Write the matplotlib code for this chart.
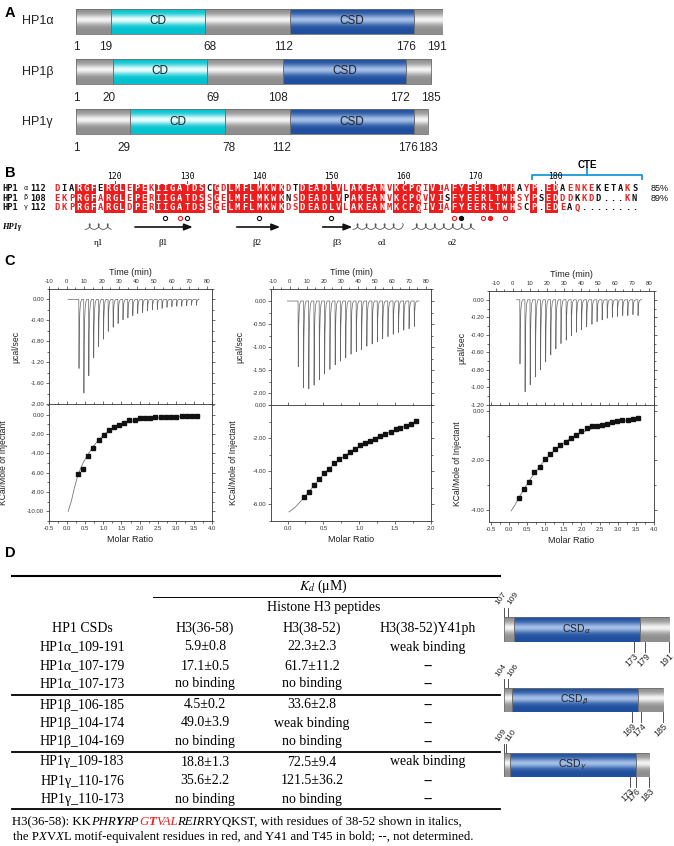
import numpy as np
import matplotlib
matplotlib.use('Agg')
import matplotlib.pyplot as plt
from matplotlib.patches import Rectangle
from matplotlib.colors import to_rgb
from matplotlib.ticker import MultipleLocator, FormatStrFormatter

plt.rcParams['font.family'] = ['Liberation Sans', 'DejaVu Sans']
plt.rcParams['axes.unicode_minus'] = False

# ---------------- data ----------------
# A: domain maps
a_names = ['HP1α', 'HP1β', 'HP1γ']
a_len = [191, 185, 183]
a_cd = [(19, 68), (20, 69), (29, 78)]
a_csd = [(112, 176), (108, 172), (112, 176)]
a_marks = [[1, 19, 68, 112, 176, 191], [1, 20, 69, 108, 172, 185], [1, 29, 78, 112, 176, 183]]
# small label nudges (in residues) so numbers sit as in the original
a_mark_dx = [[0, -2.5, 2.5, -3.5, -4, -3], [0, -2, 3, -2.5, -3.5, 0], [0, -3, 2, -4.5, -3, 0]]

# B: alignment
seq_greek = ['α', 'β', 'γ']
seq_start = [112, 108, 112]
seq_a = 'DIARGFERGLEPEKIIGATDSCGDLMFLMKWKDTDEADLVLAKEANVKCPQIVIAFYEERLTWHAYP.EDAENKEKETAKS'
seq_b = 'EKPRGFARGLEPERIIGATDSSGELMFLMKWKNSDEADLVPAKEANVKCPQVVISFYEERLTWHSYPSEDDDKKDD...KN'
seq_g = 'DKPRGFARGLDPERIIGATDSSGELMFLMKWKDSDEADLVLAKEANMKCPQIVIAFYEERLTWHSCP.EDEAQ........'
seq_ident = ['85%', '89%', '']
sim_groups = ['DE', 'KR', 'ILVM', 'NQ', 'FYW']
ruler = [120, 130, 140, 150, 160, 170, 180]
contact_cols = [15, 17, 18, 28, 38, 55, 56, 59, 60, 62]
contact_color = ['k', 'r', 'k', 'k', 'k', 'r', 'k', 'r', 'r', 'r']
contact_filled = [0, 0, 0, 0, 0, 0, 1, 0, 1, 0]
ss_kind = ['coil', 'arrow', 'arrow', 'arrow', 'coil', 'coil']
ss_from = [3.9, 10.8, 24.9, 36.8, 41.0, 49.2]
ss_to = [7.6, 18.8, 30.9, 40.9, 47.9, 57.9]
ss_label = ['η1', 'β1', 'β2', 'β3', 'α1', 'α2']
ss_label_col = [5.7, 14.7, 27.7, 38.8, 45.0, 54.8]
cte_span = (65.8, 81.0)
cte_mid = 73.4

# C: ITC
itc_names = ['HP1α_107-179', 'HP1β_104-174', 'HP1γ_110-176']
itc_kd = ['17.1±0.5', '49.0±3.9', '35.6±2.2']
inj_t1 = [7.0, 9.8, 12.6, 15.4, 18.2, 21.0, 23.7, 26.5, 29.3, 32.1, 34.9, 37.7, 40.5,
          43.3, 46.1, 48.9, 51.7, 54.4, 57.2, 60.0, 62.8, 65.6, 68.4, 71.2, 74.0]
depth1 = [-1.32, -1.79, -1.46, -1.12, -0.90, -0.76, -0.61, -0.53, -0.46, -0.39, -0.35, -0.31, -0.27,
          -0.25, -0.22, -0.20, -0.19, -0.17, -0.15, -0.14, -0.13, -0.13, -0.12, -0.11, -0.11]
inj_t2 = [4.9, 8.0, 11.1, 14.2, 17.3, 20.4, 23.5, 26.6, 29.7, 32.8, 35.9, 39.0, 42.1, 45.2,
          48.3, 51.4, 54.5, 57.6, 60.7, 63.8, 66.9, 70.0, 73.1]
depth2 = [-1.42, -1.88, -1.90, -1.82, -1.70, -1.58, -1.48, -1.38, -1.30, -1.23, -1.15, -1.10,
          -1.05, -0.98, -0.93, -0.88, -0.82, -0.77, -0.72, -0.68, -0.63, -0.60, -0.55]
inj_t3 = [4.1, 7.1, 10.1, 13.2, 16.2, 19.2, 22.2, 25.2, 28.2, 31.3, 34.3, 37.3, 40.3, 43.3,
          46.4, 49.4, 52.4, 55.4, 58.4, 61.4, 64.5, 67.5, 70.5, 73.5]
depth3 = [-0.73, -1.05, -0.97, -0.88, -0.80, -0.71, -0.63, -0.56, -0.50, -0.46, -0.41, -0.37,
          -0.34, -0.31, -0.28, -0.25, -0.23, -0.21, -0.20, -0.19, -0.18, -0.18, -0.17, -0.18]
base_span = [(0.8, 75.4), (-1.4, 75.9), (2.2, 75.7)]

ratio1 = [0.31, 0.44, 0.58, 0.72, 0.87, 1.02, 1.16, 1.30, 1.44, 1.58, 1.72, 1.87,
          2.01, 2.15, 2.30, 2.44, 2.58, 2.72, 2.87, 3.01, 3.16, 3.30, 3.44, 3.58]
heat1 = [-6.1, -5.6, -4.3, -3.4, -2.66, -2.08, -1.63, -1.28, -1.04, -0.83, -0.59, -0.52,
         -0.38, -0.38, -0.31, -0.28, -0.24, -0.21, -0.21, -0.21, -0.17, -0.17, -0.14, -0.10]
fit_r1 = [0.03, 0.12, 0.2, 0.3, 0.44, 0.58, 0.72, 0.87, 1.02, 1.16, 1.3, 1.5, 1.72, 2.0, 2.3, 2.7, 3.1, 3.6]
fit_h1 = [-10.0, -8.9, -7.6, -6.2, -5.0, -4.1, -3.3, -2.6, -2.05, -1.65, -1.32, -1.0, -0.75, -0.55,
          -0.42, -0.3, -0.22, -0.15]
ratio2 = [0.23, 0.30, 0.37, 0.44, 0.51, 0.58, 0.65, 0.72, 0.80, 0.87, 0.94, 1.01, 1.08, 1.15,
          1.22, 1.29, 1.36, 1.44, 1.51, 1.57, 1.65, 1.72, 1.79]
heat2 = [-5.57, -5.25, -4.83, -4.47, -4.10, -3.86, -3.50, -3.28, -3.06, -2.86, -2.66, -2.43,
         -2.30, -2.17, -2.03, -1.87, -1.73, -1.61, -1.47, -1.37, -1.25, -1.15, -0.95]
fit_r2 = [0.02, 0.1, 0.23, 0.37, 0.51, 0.65, 0.8, 0.94, 1.08, 1.22, 1.36, 1.51, 1.65, 1.79]
fit_h2 = [-6.45, -6.2, -5.6, -4.85, -4.15, -3.55, -3.05, -2.65, -2.3, -2.0, -1.73, -1.48, -1.25, -1.03]
ratio3 = [0.28, 0.42, 0.56, 0.70, 0.85, 1.00, 1.14, 1.28, 1.42, 1.56, 1.70, 1.85, 1.99,
          2.14, 2.28, 2.42, 2.56, 2.70, 2.85, 2.99, 3.13, 3.28, 3.42, 3.56]
heat3 = [-3.54, -3.15, -2.86, -2.49, -2.26, -1.96, -1.72, -1.54, -1.38, -1.26, -1.11, -0.96,
         -0.82, -0.70, -0.62, -0.62, -0.57, -0.51, -0.45, -0.38, -0.35, -0.34, -0.31, -0.27]
fit_r3 = [0.06, 0.15, 0.28, 0.42, 0.56, 0.7, 0.85, 1.0, 1.14, 1.28, 1.42, 1.56, 1.7, 1.85, 2.0,
          2.3, 2.6, 3.0, 3.3, 3.56]
fit_h3 = [-4.05, -3.85, -3.5, -3.15, -2.83, -2.52, -2.24, -1.97, -1.75, -1.55, -1.38, -1.24, -1.1,
          -0.98, -0.87, -0.7, -0.57, -0.44, -0.37, -0.32]

# D: table
tbl_csd = ['HP1α_109-191', 'HP1α_107-179', 'HP1α_107-173', 'HP1β_106-185', 'HP1β_104-174',
           'HP1β_104-169', 'HP1γ_109-183', 'HP1γ_110-176', 'HP1γ_110-173']
tbl_h3_36_58 = ['5.9±0.8', '17.1±0.5', 'no binding', '4.5±0.2', '49.0±3.9', 'no binding',
                '18.8±1.3', '35.6±2.2', 'no binding']
tbl_h3_38_52 = ['22.3±2.3', '61.7±11.2', 'no binding', '33.6±2.8', 'weak binding', 'no binding',
                '72.5±9.4', '121.5±36.2', 'no binding']
tbl_y41ph = ['weak binding', '--', '--', '--', '--', '--', 'weak binding', '--', '--']
tbl_head = ['HP1 CSDs', 'H3(36-58)', 'H3(38-52)', 'H3(38-52)Y41ph']
d_range = [(107, 191), (104, 185), (109, 183)]
d_csd = [(112, 176), (108, 172), (112, 176)]
d_top = [[107, 109], [104, 106], [109, 110]]
d_top_dx = [-2.0, 2.0]   # spread the two crowded start labels apart
d_bot = [[173, 179, 191], [169, 174, 185], [173, 176, 183]]

# ---------------- figure ----------------
W, H = 674, 846
fig = plt.figure(figsize=(W / 100, H / 100), dpi=100)


def px_axes(x0, y0, x1, y1):
    return fig.add_axes([x0 / W, 1 - y1 / H, (x1 - x0) / W, (y1 - y0) / H])


canvas = px_axes(0, 0, W, H)
canvas.set_xlim(0, W)
canvas.set_ylim(H, 0)
canvas.axis('off')

GRAY = ('#8f8f8f', '#f4f4f4')
CYAN = ('#00c2cf', '#eaffff')
BLUE = ('#1f4f9e', '#a4bfe8')


def grad_rect(ax, x0, x1, y0, y1, cols):
    t = np.linspace(0, 1, 80)
    w = np.exp(-((t - 0.42) / 0.2) ** 2)
    e, m = np.array(to_rgb(cols[0])), np.array(to_rgb(cols[1]))
    img = e * (1 - w[:, None]) + m * w[:, None]
    ax.imshow(img[:, None, :], extent=(x0, x1, y1, y0), aspect='auto',
              interpolation='bilinear', zorder=2)
    ax.add_patch(Rectangle((x0, y0), x1 - x0, y1 - y0, fill=False, ec='#6f6f6f', lw=0.6, zorder=3))


for lab, y in zip('ABCD', [13, 173, 261, 553]):
    canvas.text(10, y, lab, fontsize=10.5, weight='bold', ha='center', va='center')

# ---- A ----
axA = px_axes(76, 0, 443, 160)
for r in range(3):
    cd, csd = a_cd[r], a_csd[r]
    segs = [(1, cd[0], GRAY), (cd[0], cd[1], CYAN), (cd[1], csd[0], GRAY),
            (csd[0], csd[1], BLUE), (csd[1], a_len[r], GRAY)]
    for s0, s1, c in segs:
        grad_rect(axA, s0, s1, r - 0.25, r + 0.25, c)
    axA.text(sum(cd) / 2, r, 'CD', ha='center', va='center', fontsize=8.5, color='#222', zorder=4)
    axA.text(sum(csd) / 2, r, 'CSD', ha='center', va='center', fontsize=8.5, color='#222', zorder=4)
    for m, dx in zip(a_marks[r], a_mark_dx[r]):
        axA.text(m + dx, r + 0.52, str(m), ha='center', va='center', fontsize=8.5, color='#222')
    axA.text(-0.147, r, a_names[r], transform=axA.get_yaxis_transform(), ha='left',
             va='center', fontsize=9, color='#222')
axA.set_xlim(1, 191)
axA.set_ylim(2.77, -0.43)
axA.axis('off')

# ---- B ----
axB = px_axes(0, 160, W, 252)
seqs = [seq_a, seq_b, seq_g]
ncol = len(seq_a)
RED = '#ee1d1d'
MONO = dict(family='DejaVu Sans Mono', weight='bold', fontsize=6.3)


def grp(c):
    for g in sim_groups:
        if c in g:
            return g
    return c


ident = [all(s[j] == seq_a[j] for s in seqs) and seq_a[j] != '.' for j in range(ncol)]
j = 0
while j < ncol:
    if ident[j]:
        k = j
        while k + 1 < ncol and ident[k + 1]:
            k += 1
        axB.add_patch(Rectangle((j - 0.45, -0.5), k - j + 0.9, 3.0, fc=RED, ec='none', zorder=1))
        j = k + 1
    else:
        j += 1
for r, s in enumerate(seqs):
    for j, c in enumerate(s):
        if ident[j]:
            col = 'white'
        elif c != '.' and any(grp(o[j]) == grp(c) for i, o in enumerate(seqs) if i != r and o[j] != '.'):
            col = RED
        else:
            col = '#111'
        axB.text(j, r, c, ha='center', va='center', color=col, zorder=2, **MONO)
    axB.text(-7.6, r, 'HP1', ha='left', va='center', color='#111', **MONO)
    axB.text(-4.6, r - 0.15, seq_greek[r], ha='left', va='center', color='#111',
             family='DejaVu Sans', fontsize=4.8)
    axB.text(-1.5, r, str(seq_start[r]), ha='right', va='center', color='#111', **MONO)
    axB.text(82.2, r, seq_ident[r], ha='left', va='center', fontsize=6.5, color='#111')

# ruler from the first sequence numbering
res_cols = [j for j, c in enumerate(seq_a) if c != '.']
for n in ruler:
    cpos = res_cols[n - seq_start[0]]
    axB.text(cpos, -1.3, str(n), ha='center', va='center', family='DejaVu Sans Mono', fontsize=5.8)
    axB.plot([cpos, cpos], [-0.85, -0.6], color='#333', lw=0.6)

# CTE bracket
cte_c = '#1b98d5'
axB.plot([cte_span[0], cte_span[0], cte_span[1], cte_span[1]], [-1.05, -1.5, -1.5, -1.05], color=cte_c, lw=1.3)
axB.plot([cte_mid, cte_mid], [-1.5, -2.2], color=cte_c, lw=1.3)
axB.text(cte_mid, -2.55, 'CTE', ha='center', va='center', fontsize=7, weight='bold')

# interface residues
for cpos, cc, f in zip(contact_cols, contact_color, contact_filled):
    ccol = '#111' if cc == 'k' else RED
    axB.plot(cpos, 3.05, 'o', ms=3.0, mec=ccol, mfc=(ccol if f else 'white'), mew=0.8)

# secondary structure
axB.text(-7.6, 4.0, 'HP1γ', ha='left', va='center', family='Liberation Serif', style='italic',
         weight='bold', fontsize=6)
for kind, c0, c1, lab, lc in zip(ss_kind, ss_from, ss_to, ss_label, ss_label_col):
    if kind == 'arrow':
        axB.annotate('', xy=(c1, 4.0), xytext=(c0, 4.0),
                     arrowprops=dict(arrowstyle='-|>,head_width=0.22,head_length=0.55',
                                     lw=1.2, color='#111', shrinkA=0, shrinkB=0, mutation_scale=9))
    else:
        s = np.linspace(0, c1 - c0, 200)
        th = 2 * np.pi * s / 1.25
        axB.plot(c0 + s + 0.32 * np.sin(th), 4.25 - 0.6 * (1 - np.cos(th)) / 2, color='#555', lw=0.6)
    axB.text(lc, 5.68, lab, ha='center', va='center', family='Liberation Serif', fontsize=6.5)
axB.set_xlim(-57 / 7.22, (W - 57) / 7.22)
axB.set_ylim(6.63, -3.05)
axB.axis('off')

# ---- C ----
PEAK_DT = [0, 0.12, 0.3, 0.6, 1.0, 1.6]
PEAK_F = [0, 1, 0.45, 0.18, 0.05, 0]
panels = [
    dict(box=(49, 212, 289, 404, 521), tlim=(-10, 83), inj=inj_t1, dep=depth1, base=base_span[0],
         rlim=(-2.0, 0.2), rstep=0.4, xlim=(-0.5, 4.0), xstep=0.5, hlim=(-11.0, 1.1), hstep=2.0,
         r=ratio1, h=heat1, fr=fit_r1, fh=fit_h1, txt=(143, 467), ylab=(16, 4)),
    dict(box=(271, 431, 289, 405, 521), tlim=(-11, 83), inj=inj_t2, dep=depth2, base=base_span[1],
         rlim=(-2.25, 0.26), rstep=0.5, xlim=(-0.23, 2.0), xstep=0.5, hlim=(-7.0, 0.0), hstep=2.0,
         r=ratio2, h=heat2, fr=fit_r2, fh=fit_h2, txt=(378, 469), ylab=(240, 233)),
    dict(box=(489, 654, 291, 405, 522), tlim=(-14, 83), inj=inj_t3, dep=depth3, base=base_span[2],
         rlim=(-1.2, 0.1), rstep=0.2, xlim=(-0.55, 4.0), xstep=0.5, hlim=(-4.5, 0.25), hstep=2.0,
         r=ratio3, h=heat3, fr=fit_r3, fh=fit_h3, txt=(593, 471), ylab=(462, 457)),
]


def style(ax):
    for sp in ax.spines.values():
        sp.set_linewidth(0.6)
        sp.set_color('#333')
    ax.tick_params(which='both', direction='out', width=0.5, colors='#333', labelsize=4.3,
                   top=True, right=True, pad=1.2)
    ax.tick_params(which='major', length=2.2)
    ax.tick_params(which='minor', length=1.2)


for i, p in enumerate(panels):
    x0, x1, yt, yj, yb = p['box']
    at = px_axes(x0, yt, x1, yj)
    ab = px_axes(x0, yj, x1, yb)
    # raw heat trace
    ts, ys = [p['base'][0]], [0.0]
    for ti, d in zip(p['inj'], p['dep']):
        for dt, f in zip(PEAK_DT, PEAK_F):
            ts.append(ti + dt)
            ys.append(d * f)
    ts.append(p['base'][1])
    ys.append(0.0)
    at.plot(ts, ys, color='#666', lw=0.5)
    at.set_xlim(*p['tlim'])
    at.set_ylim(*p['rlim'])
    at.xaxis.set_major_locator(MultipleLocator(10))
    at.xaxis.set_minor_locator(MultipleLocator(5))
    at.yaxis.set_major_locator(MultipleLocator(p['rstep']))
    at.yaxis.set_minor_locator(MultipleLocator(p['rstep'] / 2))
    at.yaxis.set_major_formatter(FormatStrFormatter('%.2f'))
    style(at)
    at.tick_params(labelbottom=False, labeltop=True)
    at.set_xlabel('Time (min)', fontsize=6.5, color='#222', labelpad=3)
    at.xaxis.set_label_position('top')
    # integrated heats
    ab.plot(p['fr'], p['fh'], color='#777', lw=0.6)
    ab.plot(p['r'], p['h'], 's', color='#111', ms=3.2)
    ab.set_xlim(*p['xlim'])
    ab.set_ylim(*p['hlim'])
    ab.xaxis.set_major_locator(MultipleLocator(p['xstep']))
    ab.xaxis.set_minor_locator(MultipleLocator(p['xstep'] / 2))
    ab.xaxis.set_major_formatter(FormatStrFormatter('%.1f'))
    ab.yaxis.set_major_locator(MultipleLocator(p['hstep']))
    ab.yaxis.set_minor_locator(MultipleLocator(p['hstep'] / 2))
    ab.yaxis.set_major_formatter(FormatStrFormatter('%.2f'))
    style(ab)
    ab.set_xlabel('Molar Ratio', fontsize=6.5, color='#222', labelpad=3)
    tx, ty = p['txt']
    canvas.text(tx, ty, itc_names[i], ha='center', va='center', fontsize=6.5, color='#222')
    canvas.text(tx, ty + 11, r'$K_d$=' + itc_kd[i] + ' μM', ha='center', va='center', fontsize=6.5,
                color='#222', math_fontfamily='dejavusans')
    canvas.text(p['ylab'][0], (yt + yj) / 2, 'μcal/sec', rotation=90, ha='center', va='center',
                fontsize=6.2, color='#222')
    canvas.text(p['ylab'][1], (yj + yb) / 2, 'KCal/Mole of Injectant', rotation=90, ha='center',
                va='center', fontsize=6.2, color='#222')

# ---- D: table ----
SERIF = 'Liberation Serif'
canvas.plot([12, 500], [576, 576], color='k', lw=1.5)
canvas.plot([153, 497], [597, 597], color='k', lw=0.7)
for y in [695, 752, 809]:
    canvas.plot([12, 500], [y, y], color='k', lw=1.3)
canvas.text(323, 586, r'$K_d$ (μM)', ha='center', va='center', fontsize=10, family=SERIF,
            math_fontfamily='stix')
canvas.text(324, 608, 'Histone H3 peptides', ha='center', va='center', fontsize=10, family=SERIF)
col_x = [82, 205, 312, 428]
for x, t in zip(col_x, tbl_head):
    canvas.text(x, 628, t, ha='center', va='center', fontsize=10, family=SERIF)
row_y = [647, 666, 684, 705, 723, 742, 762, 781, 799]
for y, a, b, c, d in zip(row_y, tbl_csd, tbl_h3_36_58, tbl_h3_38_52, tbl_y41ph):
    for x, t in zip(col_x, [a, b, c, d]):
        canvas.text(x, y, t, ha='center', va='center', fontsize=10, family=SERIF)

renderer = fig.canvas.get_renderer()


def text_run(x, y, pieces):
    for s, st, wt, colr in pieces:
        t = canvas.text(x, y, s, fontsize=9.2, family=SERIF, style=st, weight=wt, color=colr,
                        ha='left', va='center')
        x += t.get_window_extent(renderer=renderer).width


N, I = 'normal', 'italic'
B = 'bold'
text_run(12, 822, [('H3(36-58): KK', N, N, 'k'), ('PHR', I, N, 'k'), ('Y', I, B, 'k'),
                   ('RP', I, N, 'k'), ('G', I, N, RED), ('T', I, B, RED), ('VAL', I, N, RED),
                   ('REIR', I, N, 'k'), ('RYQKST, with residues of 38-52 shown in italics,', N, N, 'k')])
text_run(13, 837, [('the P', N, N, 'k'), ('X', I, N, 'k'), ('V', N, N, 'k'), ('X', I, N, 'k'),
                   ('L motif-equivalent residues in red, and Y41 and T45 in bold; --, not determined.',
                    N, N, 'k')])

# ---- D: CSD constructs ----
d_rows = [(617, 642), (688, 712), (753, 777)]
for i in range(3):
    s0, s1 = d_range[i]
    c0, c1 = d_csd[i]
    ya, yb2 = d_rows[i]
    ax = px_axes(504, ya, 504 + (s1 - s0) * 1.964, yb2)
    for a0, a1, c in [(s0, c0, GRAY), (c0, c1, BLUE), (c1, s1, GRAY)]:
        grad_rect(ax, a0, a1, 0, 1, c)
    ax.text((c0 + c1) / 2, 0.5, 'CSD$_{' + ['\\alpha', '\\beta', '\\gamma'][i] + '}$', ha='center',
            va='center', fontsize=7.5, color='#222', zorder=4, math_fontfamily='dejavusans')
    for m, dx in zip(d_top[i], d_top_dx):
        ax.plot([m, m], [0, -0.38], color='#333', lw=0.6, clip_on=False)
        ax.text(m + dx, -0.42, str(m), rotation=55, rotation_mode='anchor', ha='left', va='bottom',
                fontsize=6, color='#222')
    for m in d_bot[i]:
        ax.plot([m, m], [1, 1.4], color='#333', lw=0.6, clip_on=False)
        ax.text(m, 1.4, str(m), rotation=45, rotation_mode='anchor', ha='right', va='top',
                fontsize=6.3, color='#222')
    ax.set_xlim(s0, s1)
    ax.set_ylim(1, 0)
    ax.axis('off')

fig.savefig('out.png', dpi=100)
